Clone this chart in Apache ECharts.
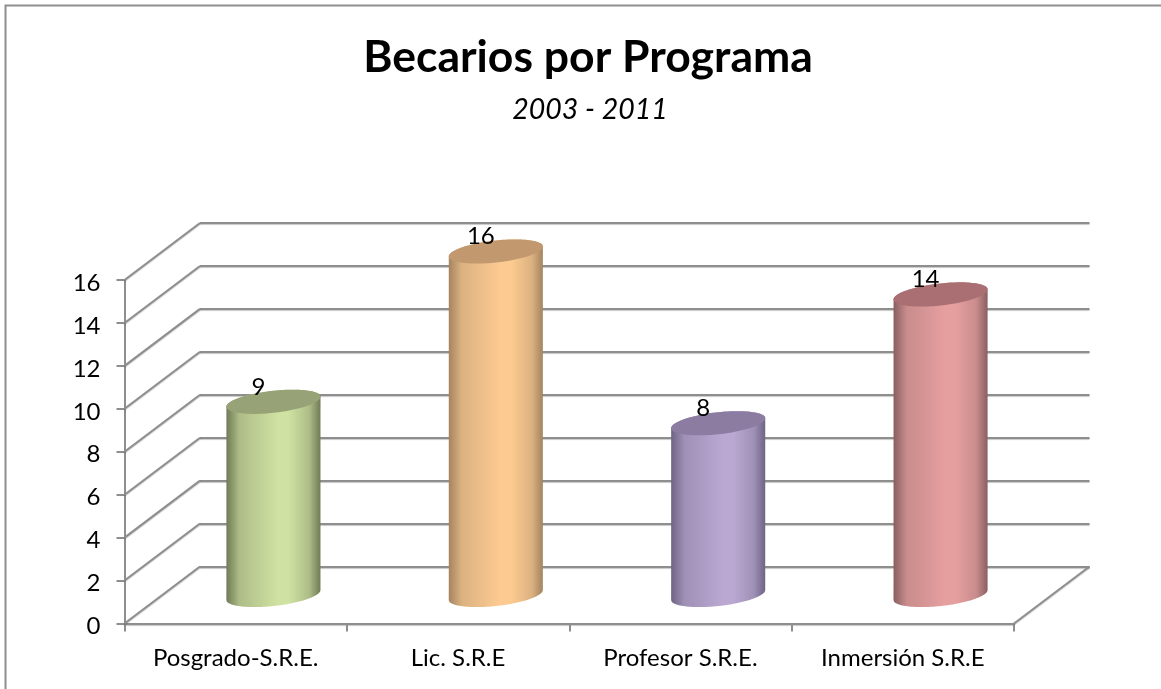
<!DOCTYPE html>
<html>
<head>
<meta charset="utf-8">
<style>html,body{margin:0;padding:0;background:#fff}#c{width:1161px;height:689px}</style>
<script src="https://cdn.jsdelivr.net/npm/echarts@6/dist/echarts.min.js"></script>
</head>
<body>
<div id="c"></div>
<script>
const categories = ['Posgrado-S.R.E.', 'Lic. S.R.E', 'Profesor S.R.E.', 'Inmersión S.R.E'];
const values = [9, 16, 8, 14];
const wallTicks = [0, 2, 4, 6, 8, 10, 12, 14, 16];
const bodyColors = ['#d0e2a2', '#fdcb91', '#baa8d2', '#e69f9f'];
const edgeColors = ['#6f7b56', '#a58460', '#6f6484', '#8a5f5f'];
const midColors = ['#aebd88', '#dcb281', '#9f90b6', '#c98c8c'];
const topColors = ['#97a377', '#c2996f', '#8c7ca2', '#a96f72'];

const GRAY = '#8e8e8e';
const FONT = 'Lato, Carlito, "Open Sans", sans-serif';
const LINE = { color: GRAY, width: 2, shadowColor: 'rgba(0,0,0,0.22)', shadowBlur: 1, shadowOffsetY: 1 };
// Frame of the front plane and the 3D depth vector
const L = 124.5, R = 1014, T = 280, B = 623.5, DX = 75.5, DY = -57;
const W = 1161, H = 689;
function gridAt(k) {
  return { left: L + DX * k, width: R - L, top: T + DY * k, height: B - T, containLabel: false };
}
function hiddenAxis(type, extra) {
  return Object.assign({ type, show: false }, extra);
}

const chart = echarts.init(document.getElementById('c'), null, { renderer: 'canvas' });

function ellipsePoint(c, a, t) {
  return [c[0] + a * Math.cos(t), c[1] - a * 0.106 * Math.cos(t) - a * 0.235 * Math.sin(t)];
}
function renderCylinder(params, api) {
  const i = api.value(0);
  const top = api.coord([i, api.value(1)]);
  const base = api.coord([i, 0]);
  const a = api.size([1, 0])[0] * 0.2115;
  const outline = [];
  const cap = [];
  const steps = 60;
  for (let s = 0; s <= steps; s++) {
    const t = Math.PI + Math.PI * s / steps;
    outline.push(ellipsePoint(base, a, t));
  }
  for (let s = 0; s <= steps; s++) {
    const t = Math.PI * s / steps;
    outline.push(ellipsePoint(top, a, t));
  }
  for (let s = 0; s < steps * 2; s++) {
    cap.push(ellipsePoint(top, a, Math.PI * s / steps));
  }
  const body = {
    type: 'linear', x: 0, y: 0, x2: 1, y2: 0,
    colorStops: [
      { offset: 0, color: edgeColors[i] },
      { offset: 0.14, color: midColors[i] },
      { offset: 0.55, color: bodyColors[i] },
      { offset: 0.66, color: bodyColors[i] },
      { offset: 0.88, color: midColors[i] },
      { offset: 1, color: edgeColors[i] }
    ]
  };
  return {
    type: 'group',
    children: [
      { type: 'polygon', shape: { points: outline }, style: { fill: body } },
      { type: 'polygon', shape: { points: cap }, style: { fill: topColors[i] } },
      {
        type: 'text',
        style: {
          x: top[0] - 15, y: top[1] - 15,
          text: String(api.value(1)),
          fill: '#000', font: '24px ' + FONT,
          align: 'center', verticalAlign: 'middle'
        }
      }
    ]
  };
}
function renderDepthLine(params, api) {
  const p = api.coord([api.value(0), api.value(1)]);
  const x = p[0] + api.value(2) * api.size([1, 0])[0] / 2;
  return {
    type: 'line',
    shape: { x1: x, y1: p[1], x2: x + DX, y2: p[1] + DY },
    style: { stroke: GRAY, lineWidth: 2, shadowColor: LINE.shadowColor, shadowBlur: 1, shadowOffsetY: 1 }
  };
}

chart.setOption({
  animation: false,
  backgroundColor: '#fff',
  title: [
    {
      text: 'Becarios por Programa', left: 583, top: 30, textAlign: 'center',
      textStyle: { fontFamily: FONT, fontSize: 44.5, fontWeight: 'bold', color: '#000' }
    },
    {
      text: '2003 - 2011', left: 585, top: 90, textAlign: 'center',
      textStyle: { fontFamily: FONT, fontSize: 28.5, fontStyle: 'italic', fontWeight: 'normal', color: '#000' }
    }
  ],
  graphic: [
    { type: 'polyline', z: 0, silent: true,
      shape: { points: [[5.5, H], [5.5, 5.5], [W, 5.5]] },
      style: { fill: 'none', stroke: GRAY, lineWidth: 2 } }
  ],
  grid: [gridAt(0), gridAt(1), gridAt(0.5)],
  xAxis: [
    {
      type: 'category', gridIndex: 0, data: categories, boundaryGap: true,
      axisLine: { show: true, lineStyle: LINE },
      axisTick: { show: true, length: 8, alignWithLabel: false, lineStyle: { color: GRAY, width: 2 } },
      axisLabel: { color: '#000', fontFamily: FONT, fontSize: 24, margin: 23, interval: 0 },
      splitLine: { show: false }
    },
    hiddenAxis('category', { gridIndex: 1, data: categories }),
    hiddenAxis('category', { gridIndex: 2, data: categories })
  ],
  yAxis: [
    {
      type: 'value', gridIndex: 0, min: 0, max: 16, interval: 2,
      axisLine: { show: true, lineStyle: { color: GRAY, width: 2 } },
      axisTick: { show: true, length: 8, lineStyle: { color: GRAY, width: 2 } },
      axisLabel: { color: '#000', fontFamily: FONT, fontSize: 24, margin: 24, verticalAlign: 'top', lineHeight: 6 },
      splitLine: { show: false }
    },
    {
      type: 'value', gridIndex: 1, min: 0, max: 16, interval: 2,
      axisLine: { show: false }, axisTick: { show: false }, axisLabel: { show: false },
      splitLine: { show: true, lineStyle: LINE }
    },
    hiddenAxis('value', { gridIndex: 2, min: 0, max: 16, interval: 2 })
  ],
  series: [
    {
      type: 'custom', xAxisIndex: 0, yAxisIndex: 0, silent: true, z: 2,
      clip: false,
      renderItem: renderDepthLine,
      encode: { x: 0, y: 1 },
      data: wallTicks.map(v => [0, v, -1]).concat([[3, 0, 1]])
    },
    {
      type: 'custom', name: 'Becarios', xAxisIndex: 2, yAxisIndex: 2, z: 5,
      clip: false,
      renderItem: renderCylinder,
      encode: { x: 0, y: 1 },
      data: values.map((v, i) => [i, v])
    }
  ]
});
</script>
</body>
</html>
